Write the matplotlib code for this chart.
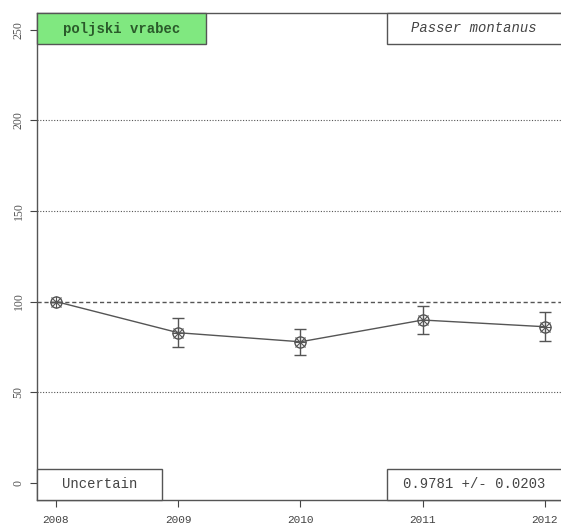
import matplotlib.pyplot as plt
from matplotlib.patches import Rectangle

years = [2008, 2009, 2010, 2011, 2012]
index = [100, 82.8, 77.8, 89.8, 86.1]
err = [0, 8.1, 7.2, 7.8, 8.1]
yticks = [0, 50, 100, 150, 200, 250]

name_local = "poljski vrabec"
name_latin = "Passer montanus"
trend_class = "Uncertain"
trend_text = "0.9781 +/- 0.0203"

fig = plt.figure(figsize=(5.61, 5.30), dpi=100)
ax = fig.add_axes([37 / 561, 30 / 530, 524 / 561, 487 / 530])

# reference lines
for y in [50, 150, 200]:
    ax.axhline(y, color="#555555", lw=0.8, ls=(0, (1, 1.5)), zorder=1)
ax.axhline(100, color="#555555", lw=1.0, ls=(0, (3, 2)), zorder=1)

col = "#555555"
ax.errorbar(years, index, yerr=err, color=col, lw=1.0, capsize=4.5,
            elinewidth=1.0, capthick=1.0, zorder=3)
ax.plot(years, index, ls="none", marker="o", ms=8, mfc="none", mec=col, mew=1.0, zorder=4)
ax.plot(years, index, ls="none", marker="x", ms=7, mec=col, mew=0.8, zorder=4)
ax.plot(years, index, ls="none", marker="+", ms=9, mec=col, mew=0.8, zorder=4)

ax.set_xlim(2007.845, 2012.131)
ax.set_ylim(-9.5, 259.2)
ax.set_xticks(years)
ax.set_yticks(yticks)
ax.set_xticklabels([str(y) for y in years], fontfamily="Liberation Mono", fontsize=8, color="#444444")
ax.set_yticklabels([str(v) for v in yticks], fontfamily="Liberation Serif", fontsize=8.5,
                   color="#555555", rotation=90, va="center")
ax.tick_params(axis="both", direction="out", length=5, width=0.8, color="#444444")
ax.tick_params(axis="y", pad=4)
ax.tick_params(axis="x", pad=6)
ax.spines["right"].set_visible(False)
for s in ["left", "bottom", "top"]:
    ax.spines[s].set_color("#555555")
    ax.spines[s].set_linewidth(1.0)

bh = 31 / 487
boxes = [
    (0, 1 - bh, 0.3226, name_local, "#80E880", "bold", "normal", "#2a5a2a"),
    (0.668, 1 - bh, 0.34, name_latin, "white", "normal", "italic", "#444444"),
    (0, 0, 0.2385, trend_class, "white", "normal", "normal", "#444444"),
    (0.668, 0, 0.34, trend_text, "white", "normal", "normal", "#444444"),
]
for x0, y0, w, txt, fc, fw, fs, tc in boxes:
    ax.add_patch(Rectangle((x0, y0), w, bh, transform=ax.transAxes, facecolor=fc,
                           edgecolor="#555555", lw=1.0, zorder=5, clip_on=False))
    xc = x0 + min(w, 1 - x0) / 2
    ax.text(xc, y0 + bh / 2, txt, transform=ax.transAxes, ha="center", va="center",
            fontfamily="Liberation Mono", fontsize=10, fontweight=fw, fontstyle=fs,
            color=tc, zorder=6)

fig.savefig("out.png", dpi=100)
